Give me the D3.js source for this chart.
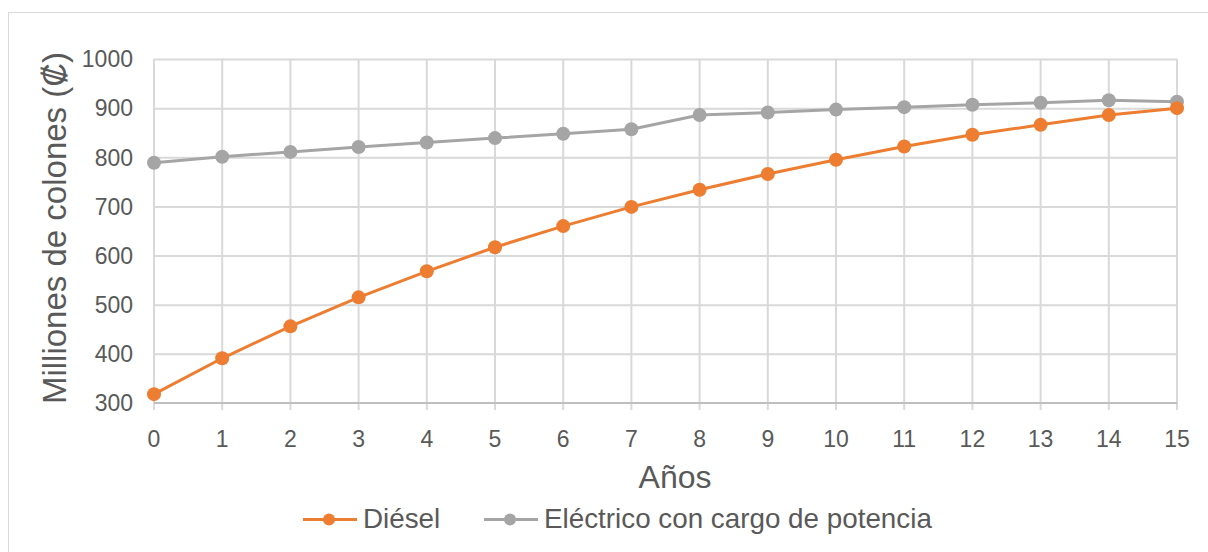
<!DOCTYPE html>
<html><head><meta charset="utf-8">
<script src="https://cdn.jsdelivr.net/npm/d3@7"></script>
<style>body{margin:0;background:#fff;} svg{display:block;font-family:"Liberation Sans",Arial,sans-serif;}</style>
</head><body><svg id="c" width="1208" height="552"></svg>
<script>
const years = [0,1,2,3,4,5,6,7,8,9,10,11,12,13,14,15];
const diesel = [318,391,456,515,568,617,660,699,734,766,795,822,846,866,886,900];
const electrico = [789,801,811,821,830,839,848,857,886,891,897,902,907,911,916,913];
const yTicks = [300,400,500,600,700,800,900,1000];
const seriesNames = ["Diésel","Eléctrico con cargo de potencia"];
const seriesColors = ["#ed7d31","#a5a5a5"];

const svg = d3.select("#c");
svg.append("rect").attr("x",8.5).attr("y",12.5).attr("width",1220).attr("height",560)
  .attr("fill","#fff").attr("stroke","#d9d9d9").attr("stroke-width",1);

const x = d3.scaleLinear().domain([0,15]).range([154,1177]);
const y = d3.scaleLinear().domain([300,1000]).range([403,59]);

// horizontal gridlines
svg.append("g").selectAll("line").data(yTicks.filter(d=>d>300)).join("line")
  .attr("x1",x(0)).attr("x2",x(15)).attr("y1",d=>y(d)+0.5).attr("y2",d=>y(d)+0.5)
  .attr("stroke","#d9d9d9").attr("stroke-width",2);
// vertical gridlines incl. tick extension
svg.append("g").selectAll("line").data(years).join("line")
  .attr("x1",d=>x(d)).attr("x2",d=>x(d)).attr("y1",y(1000)).attr("y2",y(300)+7)
  .attr("stroke","#d9d9d9").attr("stroke-width",2);
// axis line
svg.append("line").attr("x1",x(0)).attr("x2",x(15)).attr("y1",y(300)).attr("y2",y(300))
  .attr("stroke","#bfbfbf").attr("stroke-width",2);

// y tick labels
svg.append("g").selectAll("text").data(yTicks).join("text")
  .attr("x",133).attr("y",d=>y(d)).attr("dy","0.36em").attr("text-anchor","end")
  .attr("fill","#595959").attr("font-size",23).text(d=>d);
// x tick labels
svg.append("g").selectAll("text").data(years).join("text")
  .attr("x",d=>x(d)).attr("y",447).attr("text-anchor","middle")
  .attr("fill","#595959").attr("font-size",23).text(d=>d);

// axis titles
svg.append("text").attr("x",675).attr("y",488).attr("text-anchor","middle")
  .attr("fill","#595959").attr("font-size",32).text("Años");
svg.append("text").attr("transform","translate(66,228) rotate(-90)").attr("text-anchor","middle")
  .attr("fill","#595959").attr("font-size",33).text("Milliones de colones (₡)");

// series
const line = d3.line().x((d,i)=>x(years[i])).y(d=>y(d));
[electrico, diesel].forEach((s,k)=>{
  const col = k===0 ? seriesColors[1] : seriesColors[0];
  svg.append("path").datum(s).attr("d",line).attr("fill","none")
    .attr("stroke",col).attr("stroke-width",3).attr("stroke-linejoin","round");
  svg.append("g").selectAll("circle").data(s).join("circle")
    .attr("cx",(d,i)=>x(years[i])).attr("cy",d=>y(d)).attr("r",7).attr("fill",col);
});

// legend
const legX = [303, 484];
seriesNames.forEach((n,i)=>{
  const g = svg.append("g");
  g.append("line").attr("x1",legX[i]).attr("x2",legX[i]+54).attr("y1",519.5).attr("y2",519.5)
    .attr("stroke",seriesColors[i]).attr("stroke-width",3);
  g.append("circle").attr("cx",legX[i]+26).attr("cy",519.5).attr("r",6).attr("fill",seriesColors[i]);
  g.append("text").attr("x",legX[i]+60).attr("y",527.5)
    .attr("fill","#595959").attr("font-size",27.8).text(n);
});
</script></body></html>
